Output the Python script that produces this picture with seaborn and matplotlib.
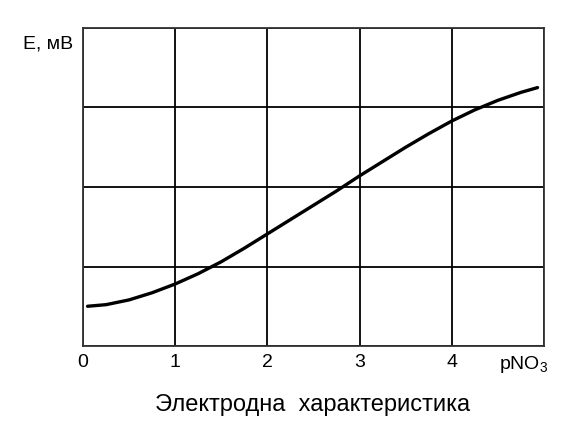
import numpy as np
import pandas as pd
import matplotlib
matplotlib.use("Agg")
import matplotlib.pyplot as plt
import matplotlib.transforms as mtransforms
import seaborn as sns

# Значения (ось E в делениях сетки)
pNO3 = [0.05, 0.25, 0.5, 0.75, 1.0, 1.25, 1.5, 1.75, 2.0, 2.25, 2.5,
        2.75, 3.0, 3.25, 3.5, 3.75, 4.0, 4.25, 4.5, 4.75, 4.93]
E_mV = [0.50, 0.52, 0.58, 0.67, 0.78, 0.91, 1.06, 1.23, 1.41, 1.59, 1.77,
        1.95, 2.14, 2.32, 2.50, 2.67, 2.83, 2.97, 3.09, 3.19, 3.25]
xticks = [0, 1, 2, 3, 4]
xtick_labels = ["0", "1", "2", "3", "4"]

sns.set_style("white")
plt.rcParams["font.family"] = ["Liberation Sans", "DejaVu Sans"]
plt.rcParams["mathtext.fontset"] = "custom"
plt.rcParams["mathtext.rm"] = "Liberation Sans"
plt.rcParams["mathtext.default"] = "regular"
plt.rcParams["text.color"] = "black"
plt.rcParams["xtick.color"] = "black"

df = pd.DataFrame({"pNO3": pNO3, "E": E_mV})

fig = plt.figure(figsize=(5.77, 4.37), dpi=100)
ax = fig.add_axes([0.1438, 0.2082, 0.7990, 0.7278])

sns.lineplot(data=df, x="pNO3", y="E", color="black", linewidth=2.4, ax=ax)

ax.set_xlim(0, 5)
ax.set_ylim(0, 4)
ax.set_xticks(xticks + [5])
ax.set_xticklabels(xtick_labels + [""], fontsize=14)
ax.set_yticks([0, 1, 2, 3, 4])
ax.set_yticklabels([])
ax.tick_params(length=0, pad=6)
ax.grid(True, color="black", linewidth=1.3)
for s in ax.spines.values():
    s.set_color("#333333")
    s.set_linewidth(1.3)
ax.set_xlabel("")
ax.set_ylabel("")

trans = mtransforms.blended_transform_factory(ax.transData, ax.transAxes)
ax.text(4.78, -0.026, "pNO$_3$", transform=trans, ha="center", va="top", fontsize=14)

fig.text(0.083, 0.900, "E, мВ", ha="center", va="center", fontsize=14)
fig.text(0.541, 0.073, "Электродна  характеристика", ha="center", va="center", fontsize=17)

fig.savefig("out.png", dpi=100)
